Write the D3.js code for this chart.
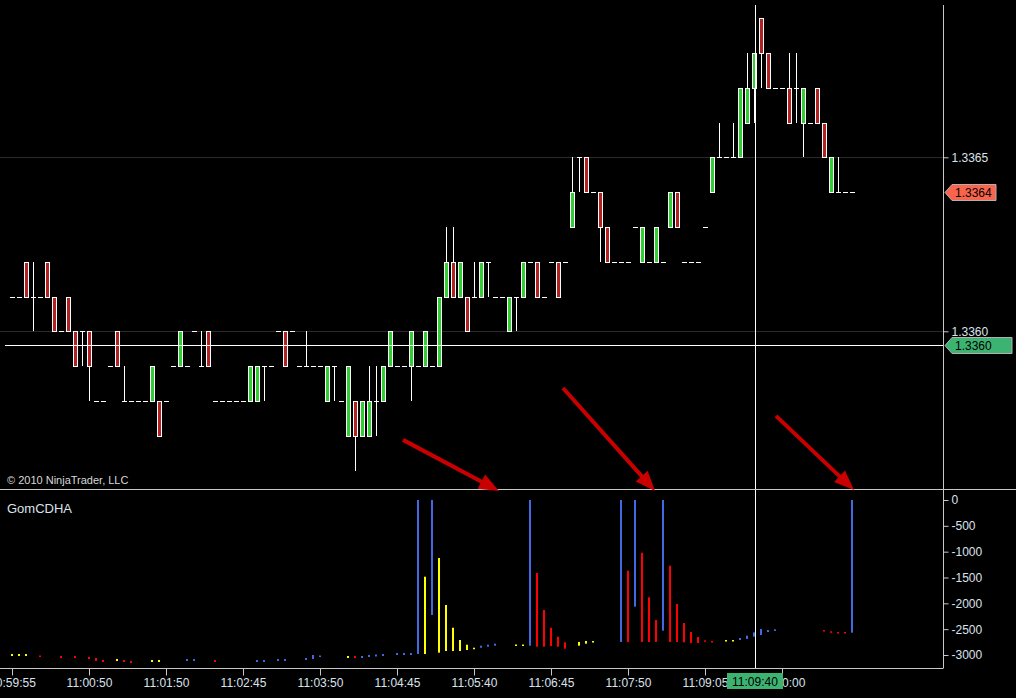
<!DOCTYPE html>
<html><head><meta charset="utf-8">
<script src="https://cdn.jsdelivr.net/npm/d3@7"></script>
<style>html,body{margin:0;padding:0;background:#000;overflow:hidden}</style>
</head><body>
<svg id="c" width="1016" height="698"></svg>
<script>
// ---- price bars (bar index 1..121) ----
const barIndex = d3.range(1, 122);
const opens = [1.3361,1.3361,1.3362,1.3361,1.3361,1.3362,1.3361,1.3360,1.3361,1.3360,
1.3360,1.3360,1.3358,1.3358,1.3359,1.3360,1.3358,1.3358,1.3358,1.3358,
1.3358,1.3358,1.3358,1.3359,1.3359,1.3359,1.3360,1.3359,1.3360,1.3358,
1.3358,1.3358,1.3358,1.3358,1.3358,1.3358,1.3359,1.3359,1.3360,1.3360,
1.3360,1.3359,1.3359,1.3359,1.3359,1.3358,1.3359,1.3358,1.3357,1.3358,
1.3357,1.3357,1.3358,1.3358,1.3359,1.3359,1.3359,1.3359,1.3359,1.3359,
1.3359,1.3359,1.3361,1.3362,1.3361,1.3361,1.3361,1.3361,1.3362,1.3361,
1.3361,1.3360,1.3361,1.3361,1.3362,1.3362,1.3361,1.3362,1.3362,1.3362,
1.3363,1.3365,1.3365,1.3364,1.3364,1.3363,1.3362,1.3362,1.3362,1.3363,
1.3362,1.3362,1.3362,1.3362,1.3363,1.3364,1.3362,1.3362,1.3362,1.3363,
1.3364,1.3365,1.3365,1.3365,1.3365,1.3366,1.3367,1.3369,1.3368,1.3367,
1.3367,1.3367,1.3367,1.3366,1.3366,1.3367,1.3366,1.3364,1.3364,1.3364,1.3364];
const highs = [1.3361,1.3361,1.3362,1.3362,1.3361,1.3362,1.3361,1.3360,1.3361,1.3360,
1.3360,1.3360,1.3358,1.3358,1.3359,1.3360,1.3359,1.3358,1.3358,1.3358,
1.3359,1.3358,1.3358,1.3359,1.3360,1.3359,1.3360,1.3360,1.3360,1.3358,
1.3358,1.3358,1.3358,1.3358,1.3359,1.3359,1.3359,1.3359,1.3360,1.3360,
1.3360,1.3359,1.3360,1.3359,1.3359,1.3359,1.3359,1.3358,1.3359,1.3358,
1.3358,1.3359,1.3359,1.3359,1.3360,1.3359,1.3359,1.3360,1.3359,1.3360,
1.3359,1.3361,1.3363,1.3363,1.3362,1.3361,1.3362,1.3362,1.3362,1.3361,
1.3361,1.3361,1.3361,1.3362,1.3362,1.3362,1.3361,1.3362,1.3362,1.3362,
1.3365,1.3365,1.3365,1.3364,1.3364,1.3363,1.3362,1.3362,1.3362,1.3363,
1.3363,1.3362,1.3363,1.3362,1.3364,1.3364,1.3362,1.3362,1.3362,1.3363,
1.3365,1.3366,1.3365,1.3366,1.3367,1.3368,1.3368,1.3369,1.3368,1.3367,
1.3367,1.3368,1.3368,1.3367,1.3366,1.3367,1.3366,1.3365,1.3365,1.3364,1.3364];
const lows = [1.3361,1.3361,1.3361,1.3360,1.3361,1.3361,1.3360,1.3360,1.3360,1.3359,
1.3359,1.3358,1.3358,1.3358,1.3359,1.3359,1.3358,1.3358,1.3358,1.3358,
1.3358,1.3357,1.3358,1.3359,1.3359,1.3359,1.3360,1.3359,1.3359,1.3358,
1.3358,1.3358,1.3358,1.3358,1.3358,1.3358,1.3358,1.3359,1.3360,1.3359,
1.3360,1.3359,1.3359,1.3359,1.3359,1.3358,1.3358,1.3358,1.3357,1.3356,
1.3357,1.3357,1.3357,1.3358,1.3359,1.3359,1.3359,1.3358,1.3359,1.3359,
1.3359,1.3359,1.3361,1.3361,1.3361,1.3360,1.3361,1.3361,1.3361,1.3361,
1.3361,1.3360,1.3360,1.3361,1.3362,1.3361,1.3361,1.3362,1.3361,1.3362,
1.3363,1.3364,1.3364,1.3364,1.3362,1.3362,1.3362,1.3362,1.3362,1.3363,
1.3362,1.3362,1.3362,1.3362,1.3363,1.3363,1.3362,1.3362,1.3362,1.3363,
1.3364,1.3365,1.3365,1.3365,1.3365,1.3366,1.3366,1.3367,1.3367,1.3367,
1.3367,1.3366,1.3366,1.3365,1.3366,1.3366,1.3365,1.3364,1.3364,1.3364,1.3364];
const closes = [1.3361,1.3361,1.3361,1.3361,1.3361,1.3361,1.3360,1.3360,1.3360,1.3359,
1.3360,1.3359,1.3358,1.3358,1.3359,1.3359,1.3358,1.3358,1.3358,1.3358,
1.3359,1.3357,1.3358,1.3359,1.3360,1.3359,1.3360,1.3359,1.3359,1.3358,
1.3358,1.3358,1.3358,1.3358,1.3359,1.3359,1.3359,1.3359,1.3360,1.3359,
1.3360,1.3359,1.3359,1.3359,1.3359,1.3359,1.3359,1.3358,1.3359,1.3357,
1.3358,1.3358,1.3358,1.3359,1.3360,1.3359,1.3359,1.3360,1.3359,1.3360,
1.3359,1.3361,1.3362,1.3361,1.3362,1.3360,1.3361,1.3362,1.3362,1.3361,
1.3361,1.3361,1.3361,1.3362,1.3362,1.3361,1.3361,1.3362,1.3361,1.3362,
1.3364,1.3365,1.3364,1.3364,1.3363,1.3362,1.3362,1.3362,1.3362,1.3363,
1.3363,1.3362,1.3363,1.3362,1.3364,1.3363,1.3362,1.3362,1.3362,1.3363,
1.3365,1.3365,1.3365,1.3365,1.3367,1.3367,1.3368,1.3368,1.3367,1.3367,
1.3367,1.3366,1.3367,1.3367,1.3366,1.3366,1.3365,1.3365,1.3364,1.3364,1.3364];

// ---- GomCDHA indicator ----
const cdIndex = [1,2,3,5,8,10,12,13,14,16,17,18,21,22,26,27,30,36,37,39,40,43,44,45,49,50,51,52,53,54,56,57,58,
59,60,61,62,63,64,65,66,67,68,69,70,73,74,75,76,77,78,79,80,82,83,84,88,89,90,91,92,93,94,95,96,97,98,99,100,101,
103,104,105,106,107,108,109,110,117,118,119,120,121];
const cdTop = [-2981,-2981,-2981,-3010,-3019,-3019,-3039,-3058,-3097,-3077,-3097,-3116,-3097,-3097,-3077,-3077,-3097,-3097,-3097,-3077,-3077,-3058,-3000,-3010,-3019,-3019,-3019,-3000,-2990,-2981,-2961,-2961,-2961,
0,-1485,0,-1123,-2032,-2472,-2710,-2801,-2859,-2820,-2801,-2781,-2797,-2797,0,-1413,-2129,-2472,-2646,-2754,-2748,-2729,-2729,0,-1368,0,-1020,-1883,-2323,0,-1272,-2013,-2381,-2555,-2652,-2716,-2729,
-2710,-2710,-2671,-2626,-2561,-2497,-2516,-2503,-2516,-2541,-2555,-2555,0];
const cdBottom = [-3019,-3019,-3019,-3039,-3058,-3058,-3077,-3116,-3135,-3116,-3135,-3155,-3135,-3135,-3116,-3116,-3135,-3135,-3135,-3116,-3116,-3097,-3077,-3039,-3058,-3058,-3058,-3039,-3029,-3019,-3000,-3000,-3000,
-2981,-2981,-2226,-2955,-2923,-2923,-2923,-2903,-2884,-2859,-2839,-2820,-2826,-2826,-2820,-2839,-2839,-2826,-2839,-2878,-2820,-2781,-2754,-2748,-2748,-2065,-2748,-2748,-2748,-2530,-2748,-2748,-2754,-2768,-2768,-2743,-2748,
-2729,-2729,-2710,-2690,-2646,-2613,-2555,-2535,-2545,-2565,-2574,-2574,-2568];
const cdColor = ["Y","Y","Y","R","R","R","R","R","R","Y","R","R","Y","Y","B","B","R","B","B","B","B","B","B","B","Y","R","B","B","B","B","B","B","B",
"B","Y","B","Y","Y","Y","Y","Y","Y","B","B","B","Y","Y","B","R","R","R","R","R","Y","Y","Y","B","R","B","R","R","R","B","R","R","R","R","R","R","R",
"Y","Y","B","B","B","B","B","B","R","R","R","R","B"];

// ---- axes ----
const priceTicks = [1.3360, 1.3365];
const cdTicks = [0,-500,-1000,-1500,-2000,-2500,-3000];
const timeTickIndex = [1,12,23,34,45,56,67,78,89,100,111];
const timeTickLabels = ["10:59:55","11:00:50","11:01:50","11:02:45","11:03:50","11:04:45","11:05:40","11:06:45","11:07:50","11:09:05","11:10:00"];
const lastPrice = 1.3364;
const crossIndex = 107.14, crossPrice = 1.33596, crossTime = "11:09:40";
// annotation arrows: start in price panel (index, price), end in indicator panel (index, value)
const arrowStartIdx = [56.86, 79.71, 110.14];
const arrowStartPrice = [1.335688, 1.335837, 1.335757];
const arrowEndIdx = [70.57, 92.86, 121.29];
const arrowEndCd = [174, 174, 194];

const FONT = "'Liberation Sans', Arial, sans-serif";
const TXT = "#dce2ec";
const svg = d3.select("#c");
svg.append("rect").attr("width",1016).attr("height",698).attr("fill","#000");

const x = d3.scaleLinear().domain([0,134]).range([5,943]);
const yP = d3.scaleLinear().domain([1.3360,1.3365]).range([331.3,157.3]);
const yC = d3.scaleLinear().domain([0,-3000]).range([500,655]);
const cr = v => Math.round(v) + 0.5;

// grid
svg.append("g").selectAll("line").data(priceTicks).join("line")
  .attr("x1",0).attr("x2",943).attr("y1",d=>cr(yP(d))).attr("y2",d=>cr(yP(d)))
  .attr("stroke","#2a2a2a").attr("stroke-width",1);

// price bars
const bars = barIndex.map((k,i)=>({k,o:opens[i],h:highs[i],l:lows[i],c:closes[i]}));
const gB = svg.append("g");
gB.selectAll("line.w").data(bars.filter(d=>d.h>d.l)).join("line")
  .attr("x1",d=>x(d.k)+0.5).attr("x2",d=>x(d.k)+0.5)
  .attr("y1",d=>Math.round(yP(d.h))).attr("y2",d=>Math.round(yP(d.l)))
  .attr("stroke","#fff").attr("stroke-width",1);
gB.selectAll("line.d").data(bars.filter(d=>d.o===d.c)).join("line")
  .attr("x1",d=>x(d.k)-2).attr("x2",d=>x(d.k)+3)
  .attr("y1",d=>cr(yP(d.o))).attr("y2",d=>cr(yP(d.o)))
  .attr("stroke","#fff").attr("stroke-width",1);
gB.selectAll("rect").data(bars.filter(d=>d.o!==d.c)).join("rect")
  .attr("x",d=>x(d.k)-1.5).attr("width",4)
  .attr("y",d=>cr(yP(Math.max(d.o,d.c))))
  .attr("height",d=>Math.round(yP(Math.min(d.o,d.c)))-Math.round(yP(Math.max(d.o,d.c))))
  .attr("fill",d=>d.c>d.o?"#32cd32":"#b22222")
  .attr("stroke","#fff").attr("stroke-width",1);

// crosshair
svg.append("line").attr("x1",5).attr("x2",943).attr("y1",cr(yP(crossPrice))).attr("y2",cr(yP(crossPrice)))
  .attr("stroke","#fff");
svg.append("line").attr("x1",cr(x(crossIndex))).attr("x2",cr(x(crossIndex))).attr("y1",5).attr("y2",668)
  .attr("stroke","#fff");

// separator and frame
svg.append("line").attr("x1",0).attr("x2",1016).attr("y1",489.5).attr("y2",489.5).attr("stroke","#c8c8c8");
svg.append("line").attr("x1",943.5).attr("x2",943.5).attr("y1",5).attr("y2",668).attr("stroke","#c8c8c8");
svg.append("line").attr("x1",0).attr("x2",943.5).attr("y1",668.5).attr("y2",668.5).attr("stroke","#c8c8c8");

// indicator
const cdCol = {B:"#4169e1", R:"#ff0000", Y:"#ffff00"};
const cd = cdIndex.map((k,i)=>({k,t:cdTop[i],b:cdBottom[i],col:cdColor[i]}));
svg.append("g").selectAll("rect").data(cd).join("rect")
  .attr("x",d=>x(d.k)-1).attr("width",2)
  .attr("y",d=>yC(d.t))
  .attr("height",d=>Math.max(1.5,yC(d.b)-yC(d.t)))
  .attr("fill",d=>cdCol[d.col]);

// axes
function styleAxis(g){
  g.select(".domain").remove();
  g.selectAll(".tick line").attr("stroke","#c8c8c8");
  g.selectAll(".tick text").attr("fill",TXT).style("font-family",FONT).style("font-size","12px");
}
svg.append("g").attr("transform","translate(943.5,0)")
  .call(d3.axisRight(yP).tickValues(priceTicks).tickFormat(d3.format(".4f")).tickSize(5).tickPadding(3))
  .call(styleAxis);
svg.append("g").attr("transform","translate(943.5,0)")
  .call(d3.axisRight(yC).tickValues(cdTicks).tickFormat(d=>String(d)).tickSize(5).tickPadding(3))
  .call(styleAxis);
svg.append("g").attr("transform","translate(0,668.5)")
  .call(d3.axisBottom(x).tickValues(timeTickIndex).tickFormat((d,i)=>timeTickLabels[i]).tickSize(7).tickPadding(3))
  .call(styleAxis);

// texts
svg.append("text").attr("x",7).attr("y",484).text("\u00a9 2010 NinjaTrader, LLC")
  .attr("fill","#d8d8d8").style("font-family",FONT).style("font-size","11px");
svg.append("text").attr("x",7).attr("y",513).text("GomCDHA")
  .attr("fill",TXT).style("font-family",FONT).style("font-size","13px");

// arrows
const ag = svg.append("g");
arrowStartIdx.forEach((si,i)=>{
  const x0=x(si), y0=yP(arrowStartPrice[i]), x1=x(arrowEndIdx[i]), y1=yC(arrowEndCd[i]);
  const ang=Math.atan2(y1-y0,x1-x0), L=20, Wd=8;
  const bx=x1-L*Math.cos(ang), by=y1-L*Math.sin(ang);
  ag.append("line").attr("x1",x0).attr("y1",y0).attr("x2",bx+2*Math.cos(ang)).attr("y2",by+2*Math.sin(ang))
    .attr("stroke","#c80000").attr("stroke-width",4);
  const px=-Math.sin(ang), py=Math.cos(ang);
  ag.append("path").attr("d",`M${x1},${y1}L${bx+Wd*px},${by+Wd*py}L${bx-Wd*px},${by-Wd*py}Z`).attr("fill","#c80000");
});

// price tags
function tag(p, fill, w){
  const yy = cr(yP(p));
  const g = svg.append("g");
  g.append("path").attr("d",`M945,${yy}L952,${yy-8}L${952+w},${yy-8}L${952+w},${yy+8}L952,${yy+8}Z`)
    .attr("fill",fill).attr("stroke","#b0b0b0");
  g.append("text").attr("x",955).attr("y",yy).attr("dy","0.35em").text(d3.format(".4f")(p))
    .attr("fill","#000").style("font-family",FONT).style("font-size","12px");
}
tag(lastPrice,"#f8644c",44);
tag(crossPrice,"#3cb371",60);

// time tag
const tx = x(crossIndex);
svg.append("rect").attr("x",tx-28).attr("y",673).attr("width",56).attr("height",16).attr("fill","#3cb371");
svg.append("text").attr("x",tx).attr("y",686).attr("text-anchor","middle").text(crossTime)
  .attr("fill","#000").style("font-family",FONT).style("font-size","12px");
</script>
</body></html>
